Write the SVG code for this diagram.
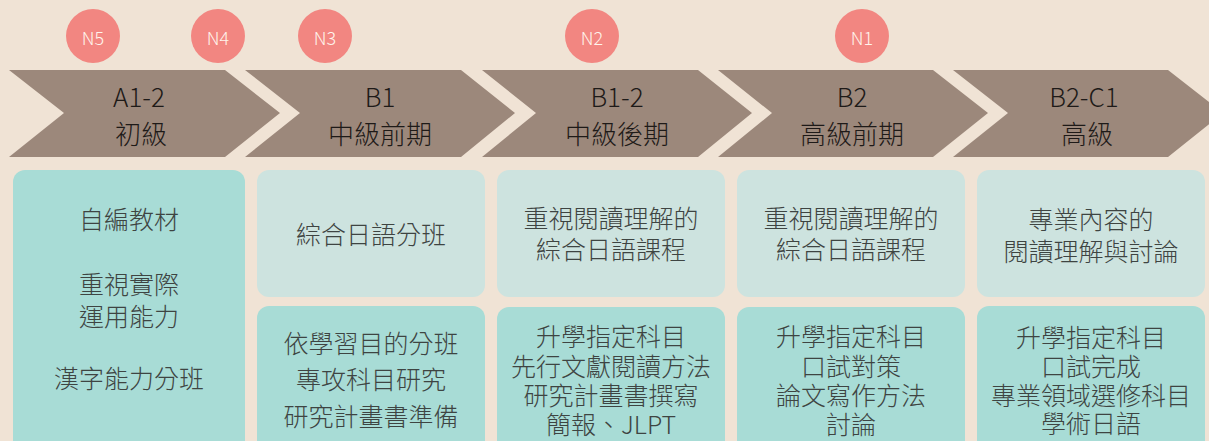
<svg xmlns="http://www.w3.org/2000/svg" width="1209" height="441" viewBox="0 0 1209 441">
<style>
.bg{fill:#F0E3D5}
.chev{fill:#9C887B}
.circ{fill:#F28681}
.ctxt{font-family:"Noto Sans CJK TC","Noto Sans",sans-serif;font-size:18px;font-weight:300;fill:#FFF4EC;text-anchor:middle;dominant-baseline:central}
.ltxt{font-family:"Noto Sans CJK TC","Noto Sans",sans-serif;font-size:26px;font-weight:300;fill:#1E1A18;text-anchor:middle}
.boxA{fill:#A8DCD6}
.boxB{fill:#CDE3DF}
.btxt{font-family:"Noto Sans CJK TC","Noto Sans",sans-serif;font-size:25px;font-weight:300;fill:#3E4442;text-anchor:middle;dominant-baseline:central}
</style>
<rect class="bg" x="0" y="0" width="1209" height="441"/>

<g id="level-1">
<polygon class="chev" points="9,70 225,70 280,113 225,157 9,157 64,113"/>
<text class="ltxt" x="139" y="107">A1-2</text>
<text class="ltxt" x="141" y="144">初級</text>
</g>
<g id="level-2">
<polygon class="chev" points="245,70 461,70 515,113 461,157 245,157 300,113"/>
<text class="ltxt" x="380" y="107">B1</text>
<text class="ltxt" x="380" y="144">中級前期</text>
</g>
<g id="level-3">
<polygon class="chev" points="482,70 698,70 752,113 698,157 482,157 536,113"/>
<text class="ltxt" x="617" y="107">B1-2</text>
<text class="ltxt" x="617" y="144">中級後期</text>
</g>
<g id="level-4">
<polygon class="chev" points="718,70 933,70 988,113 933,157 718,157 772,113"/>
<text class="ltxt" x="852" y="107">B2</text>
<text class="ltxt" x="852" y="144">高級前期</text>
</g>
<g id="level-5">
<polygon class="chev" points="953,70 1168,70 1223,113 1168,157 953,157 1008,113"/>
<text class="ltxt" x="1084" y="107">B2-C1</text>
<text class="ltxt" x="1087" y="144">高級</text>
</g>

<g id="n5"><circle class="circ" cx="93" cy="36" r="27"/><text class="ctxt" x="93" y="37">N5</text></g>
<g id="n4"><circle class="circ" cx="218" cy="36" r="27"/><text class="ctxt" x="218" y="37">N4</text></g>
<g id="n3"><circle class="circ" cx="325" cy="36" r="27"/><text class="ctxt" x="325" y="37">N3</text></g>
<g id="n2"><circle class="circ" cx="592" cy="36" r="27"/><text class="ctxt" x="592" y="37">N2</text></g>
<g id="n1"><circle class="circ" cx="862" cy="36" r="27"/><text class="ctxt" x="862" y="37">N1</text></g>

<g id="box-1">
<rect class="boxA" x="13" y="170" width="232" height="290" rx="12"/>
<text class="btxt" x="129" y="218">自編教材</text>
<text class="btxt" x="129" y="283">重視實際</text>
<text class="btxt" x="129" y="315">運用能力</text>
<text class="btxt" x="129" y="377">漢字能力分班</text>
</g>
<g id="box-2a">
<rect class="boxB" x="257" y="170" width="228" height="127" rx="12"/>
<text class="btxt" x="371" y="233">綜合日語分班</text>
</g>
<g id="box-2b">
<rect class="boxA" x="257" y="306" width="228" height="160" rx="12"/>
<text class="btxt" x="371" y="342">依學習目的分班</text>
<text class="btxt" x="371" y="378">專攻科目研究</text>
<text class="btxt" x="371" y="415">研究計畫書準備</text>
</g>
<g id="box-3a">
<rect class="boxB" x="497" y="170" width="228" height="127" rx="12"/>
<text class="btxt" x="611" y="217">重視閱讀理解的</text>
<text class="btxt" x="611" y="248">綜合日語課程</text>
</g>
<g id="box-3b">
<rect class="boxA" x="497" y="307" width="228" height="160" rx="12"/>
<text class="btxt" x="611" y="335">升學指定科目</text>
<text class="btxt" x="611" y="365">先行文獻閱讀方法</text>
<text class="btxt" x="611" y="394">研究計畫書撰寫</text>
<text class="btxt" x="611" y="423">簡報、JLPT</text>
</g>
<g id="box-4a">
<rect class="boxB" x="737" y="170" width="228" height="127" rx="12"/>
<text class="btxt" x="851" y="217">重視閱讀理解的</text>
<text class="btxt" x="851" y="248">綜合日語課程</text>
</g>
<g id="box-4b">
<rect class="boxA" x="737" y="307" width="228" height="160" rx="12"/>
<text class="btxt" x="851" y="335">升學指定科目</text>
<text class="btxt" x="851" y="365">口試對策</text>
<text class="btxt" x="851" y="394">論文寫作方法</text>
<text class="btxt" x="851" y="423">討論</text>
</g>
<g id="box-5a">
<rect class="boxB" x="977" y="170" width="228" height="127" rx="12"/>
<text class="btxt" x="1091" y="218">專業內容的</text>
<text class="btxt" x="1091" y="250">閱讀理解與討論</text>
</g>
<g id="box-5b">
<rect class="boxA" x="977" y="306" width="228" height="160" rx="12"/>
<text class="btxt" x="1091" y="336">升學指定科目</text>
<text class="btxt" x="1091" y="365">口試完成</text>
<text class="btxt" x="1091" y="394">專業領域選修科目</text>
<text class="btxt" x="1091" y="422">學術日語</text>
</g>
<g id="connectors"></g>
</svg>
